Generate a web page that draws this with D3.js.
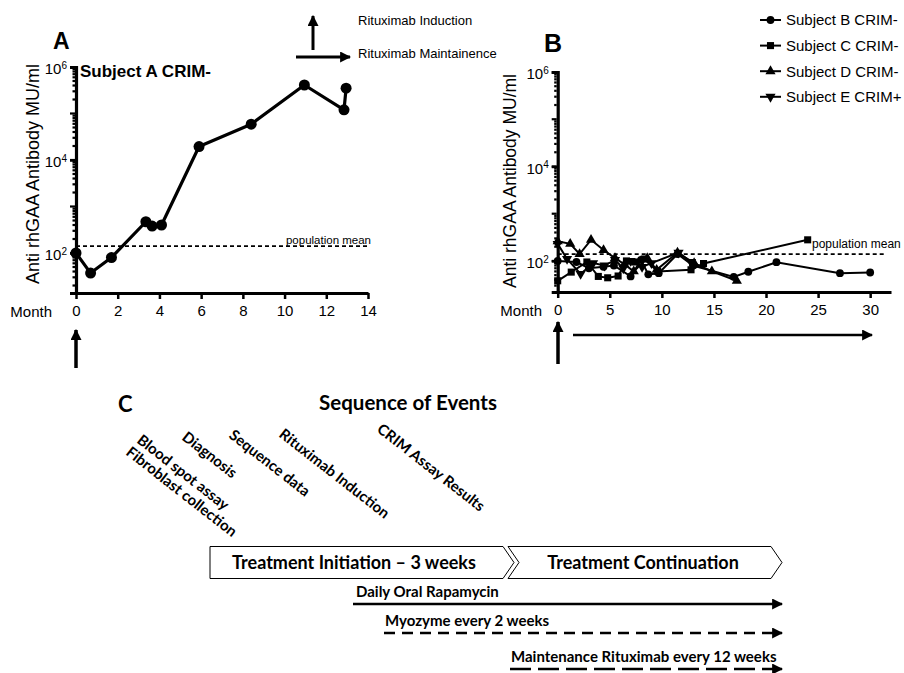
<!DOCTYPE html>
<html>
<head>
<meta charset="utf-8">
<script src="https://cdn.jsdelivr.net/npm/d3@7"></script>
<style>
    body { margin: 0; background: #fff; }
    text { fill: #000; }
</style>
</head>
<body>
<script>
// ---- panel A: Subject A CRIM-
const monthsA = [0, 0.7, 1.7, 3.35, 3.65, 4.1, 5.9, 8.4, 10.95, 12.85, 12.95];
const titerA = [100, 37, 80, 470, 380, 400, 19500, 59000, 410000, 120000, 350000];
const xTicksA = [0, 2, 4, 6, 8, 10, 12, 14];

// ---- panel B: subjects B to E
const monthsB = [0, 1.8, 3.0, 4.4, 5.4, 7.0, 8.0, 8.7, 9.7, 11.5, 13.0, 16.9, 18.3, 21.0, 27.1, 30.0];
const titerB = [100, 95, 70, 75, 80, 47, 105, 52, 55, 140, 80, 46, 59, 94, 55, 57];
const monthsC = [0, 1.3, 2.8, 3.9, 4.8, 5.8, 6.6, 7.4, 8.3, 9.6, 12.8, 14.0, 24.0];
const titerC = [38, 58, 95, 47, 44, 48, 100, 95, 110, 60, 65, 88, 280];
const monthsD = [0, 1.2, 2.1, 3.2, 4.4, 5.5, 6.4, 7.3, 8.6, 9.5, 11.5, 13.1, 14.8, 17.2];
const titerD = [260, 230, 140, 280, 170, 115, 85, 60, 115, 65, 150, 90, 60, 38];
const monthsE = [0, 0.9, 2.2, 3.4, 4.5, 5.5, 6.3, 7.0, 8.1, 9.0, 11.6, 12.8];
const titerE = [230, 110, 53, 90, 80, 105, 70, 100, 75, 90, 150, 95];
const subjectNames = ['Subject B CRIM-', 'Subject C CRIM-', 'Subject D CRIM-', 'Subject E CRIM+'];
const xTicksB = [0, 5, 10, 15, 20, 25, 30];

const populationMean = 140;
const yLabelled = [1e2, 1e4, 1e6];

// ---- panel C: sequence of events
const eventLabels = ['Fibroblast collection', 'Blood spot assay', 'Diagnosis', 'Sequence data', 'Rituximab Induction', 'CRIM Assay Results'];
const phaseLabels = ['Treatment Initiation \u2013 3 weeks', 'Treatment Continuation'];
const regimenLabels = ['Daily Oral Rapamycin', 'Myozyme every 2 weeks', 'Maintenance Rituximab every 12 weeks'];

const W = 904, H = 673;
const svg = d3.select('body').append('svg')
    .attr('width', W)
    .attr('height', H)
    .style('font-family', '"Liberation Sans", Arial, Helvetica, sans-serif');

const defs = svg.append('defs');
defs.append('marker')
    .attr('id', 'head')
    .attr('viewBox', '0 0 10 10')
    .attr('refX', 9).attr('refY', 5)
    .attr('markerWidth', 11).attr('markerHeight', 11)
    .attr('markerUnits', 'userSpaceOnUse')
    .attr('orient', 'auto')
    .append('path')
    .attr('d', 'M0,0L10,5L0,10z')
    .attr('fill', '#000');

function arrow(x1, y1, x2, y2, width, dash) {
    svg.append('line')
        .attr('x1', x1).attr('y1', y1)
        .attr('x2', x2).attr('y2', y2)
        .attr('stroke', '#000')
        .attr('stroke-width', width)
        .attr('stroke-dasharray', dash || null)
        .attr('marker-end', 'url(#head)');
}

function supLabel(sel) {
    sel.each(function (d) {
        const t = d3.select(this).text('');
        t.append('tspan').text('10');
        t.append('tspan')
            .attr('dy', '-0.55em')
            .style('font-size', '10px')
            .text(Math.round(Math.log10(d)));
    });
}

function drawPanel(o) {
    const g = svg.append('g');

    // minor ticks on log axis
    const minor = [];
    for (let e = 1; e < 6; e++) {
        for (let k = 1; k < 10; k++) {
            const v = k * Math.pow(10, e);
            if (v >= o.y.domain()[0] && v <= 1e6) minor.push(v);
        }
    }
    g.append('g')
        .selectAll('line')
        .data(minor)
        .enter()
        .append('line')
        .attr('x1', o.x(0) - 1)
        .attr('x2', function (d) {
            const e = Math.log10(d);
            return o.x(0) - (Math.abs(e - Math.round(e)) < 1e-9 ? 6 : 3.5);
        })
        .attr('y1', function (d) { return o.y(d); })
        .attr('y2', function (d) { return o.y(d); })
        .attr('stroke', '#000')
        .attr('stroke-width', 2.2);

    // y axis
    const yAxis = g.append('g')
        .attr('transform', `translate(${o.x(0)},0)`)
        .call(d3.axisLeft(o.y).tickValues(yLabelled).tickSize(6).tickPadding(3));
    yAxis.select('.domain').attr('stroke-width', 3.2);
    yAxis.selectAll('.tick line').attr('stroke-width', 2.5);
    yAxis.selectAll('.tick text')
        .style('font-size', '15px')
        .attr('dy', '0.45em')
        .call(supLabel);

    // x axis
    const xAxis = g.append('g')
        .attr('transform', `translate(0,${o.y.range()[0]})`)
        .call(d3.axisBottom(o.x).tickValues(o.xTicks).tickSize(6).tickPadding(6).tickSizeOuter(0));
    xAxis.select('.domain').attr('stroke-width', 3.2);
    xAxis.selectAll('.tick line').attr('stroke-width', 2.5);
    xAxis.selectAll('.tick text').style('font-size', '15px');

    g.append('text')
        .attr('x', o.monthX)
        .attr('y', o.y.range()[0] + 24)
        .attr('text-anchor', 'end')
        .style('font-size', '15px')
        .text('Month');

    g.append('text')
        .attr('transform', `translate(${o.titleX},${o.titleY}) rotate(-90)`)
        .attr('text-anchor', 'middle')
        .style('font-size', o.titleSize)
        .text('Anti rhGAA Antibody MU/ml');

    g.append('text')
        .attr('x', o.letterX)
        .attr('y', o.letterY)
        .style('font-size', o.letterSize)
        .style('font-weight', 'bold')
        .text(o.letter);

    // population mean
    g.append('line')
        .attr('x1', o.x(0)).attr('x2', o.meanEnd)
        .attr('y1', o.y(populationMean)).attr('y2', o.y(populationMean))
        .attr('stroke', '#000')
        .attr('stroke-width', 1.8)
        .attr('stroke-dasharray', '4,3');
    g.append('text')
        .attr('x', o.meanTextX)
        .attr('y', o.meanTextY)
        .attr('text-anchor', o.meanAnchor)
        .style('font-size', o.meanSize)
        .text('population mean');

    return g;
}

// ---------------- panel A
const xA = d3.scaleLinear().domain([0, 14]).range([76, 368]);
const yA = d3.scaleLog().domain([Math.pow(10, 1.14), 1e6]).range([293, 67]);

const gA = drawPanel({
    x: xA, y: yA, xTicks: xTicksA,
    monthX: 52, titleX: 39, titleY: 174, titleSize: '18px',
    letter: 'A', letterX: 53, letterY: 49, letterSize: '23px',
    meanEnd: 370, meanTextX: 371, meanTextY: 244, meanAnchor: 'end', meanSize: '11.5px'
});

gA.append('text')
    .attr('x', 80).attr('y', 77)
    .style('font-size', '17px')
    .style('font-weight', 'bold')
    .text('Subject A CRIM-');

const seriesA = monthsA.map(function (m, i) { return [m, titerA[i]]; });
gA.append('path')
    .datum(seriesA)
    .attr('d', d3.line().x(function (d) { return xA(d[0]); }).y(function (d) { return yA(d[1]); }))
    .attr('fill', 'none')
    .attr('stroke', '#000')
    .attr('stroke-width', 3.2)
    .attr('stroke-linejoin', 'round');
gA.append('g')
    .selectAll('circle')
    .data(seriesA)
    .enter()
    .append('circle')
    .attr('cx', function (d) { return xA(d[0]); })
    .attr('cy', function (d) { return yA(d[1]); })
    .attr('r', 5.5)
    .attr('fill', '#000');

// rituximab key
arrow(313, 50, 313, 16, 3);
arrow(296, 57, 350, 57, 3);
svg.append('text').attr('x', 358).attr('y', 25).style('font-size', '13px').text('Rituximab Induction');
svg.append('text').attr('x', 358).attr('y', 58).style('font-size', '13px').text('Rituximab Maintainence');
arrow(76, 368, 76, 330, 3.5);

// ---------------- panel B
const xB = d3.scaleLinear().domain([0, 32]).range([557.7, 891]);
const yB = d3.scaleLog().domain([22, 1e6]).range([292, 72]);

const gB = drawPanel({
    x: xB, y: yB, xTicks: xTicksB,
    monthX: 542, titleX: 516, titleY: 181, titleSize: '17.5px',
    letter: 'B', letterX: 544, letterY: 52, letterSize: '25px',
    meanEnd: 885, meanTextX: 812, meanTextY: 248, meanAnchor: 'start', meanSize: '12px'
});

const symbolTypes = [d3.symbolCircle, d3.symbolSquare, d3.symbolTriangle, d3.symbolTriangle];
const symbolSizes = [48, 50, 45, 45];
const seriesB = [
    [monthsB, titerB],
    [monthsC, titerC],
    [monthsD, titerD],
    [monthsE, titerE]
].map(function (s) { return s[0].map(function (m, i) { return [m, s[1][i]]; }); });

seriesB.forEach(function (pts, si) {
    gB.append('path')
        .datum(pts)
        .attr('d', d3.line().x(function (d) { return xB(d[0]); }).y(function (d) { return yB(d[1]); }))
        .attr('fill', 'none')
        .attr('stroke', '#000')
        .attr('stroke-width', 2);
    gB.append('g')
        .selectAll('path')
        .data(pts)
        .enter()
        .append('path')
        .attr('d', d3.symbol().type(symbolTypes[si]).size(symbolSizes[si]))
        .attr('transform', function (d) {
            return `translate(${xB(d[0])},${yB(d[1])})` + (si === 3 ? ' rotate(180)' : '');
        })
        .attr('fill', '#000');
});

// legend
const legend = svg.append('g')
    .selectAll('g')
    .data(subjectNames)
    .enter()
    .append('g')
    .attr('transform', function (d, i) { return `translate(760,${20 + i * 25.6})`; });
legend.append('line')
    .attr('x1', 0).attr('x2', 21)
    .attr('stroke', '#000').attr('stroke-width', 2);
legend.append('path')
    .attr('d', function (d, i) { return d3.symbol().type(symbolTypes[i]).size(symbolSizes[i])(); })
    .attr('transform', function (d, i) { return 'translate(10.5,0)' + (i === 3 ? ' rotate(180)' : ''); })
    .attr('fill', '#000');
legend.append('text')
    .attr('x', 26)
    .attr('dy', '0.36em')
    .style('font-size', '15px')
    .text(function (d) { return d; });

arrow(558, 364, 558, 322, 3.5);
arrow(573, 335, 872, 335, 2.5);

// ---------------- panel C
const fontC = 'Lato, "Open Sans", sans-serif';
svg.append('text')
    .attr('x', 118).attr('y', 412)
    .style('font-family', fontC).style('font-weight', 'bold').style('font-size', '22px')
    .text('C');
svg.append('text')
    .attr('x', 408).attr('y', 410)
    .attr('text-anchor', 'middle')
    .style('font-family', fontC).style('font-weight', 'bold').style('font-size', '20.5px')
    .text('Sequence of Events');

const eventX = [125, 136, 181, 228, 278, 376];
const eventY = [454, 442, 439, 437, 436, 431];
svg.append('g')
    .selectAll('text')
    .data(eventLabels)
    .enter()
    .append('text')
    .attr('transform', function (d, i) { return `translate(${eventX[i]},${eventY[i]}) rotate(38)`; })
    .style('font-family', fontC).style('font-weight', 'bold').style('font-size', '15px')
    .text(function (d) { return d; });

// phase chevrons
const midY = 562.5, half = 16;
svg.append('path')
    .attr('d', `M210,${midY - half}H503L514,${midY}L503,${midY + half}H210Z`)
    .attr('fill', '#fff').attr('stroke', '#000').attr('stroke-width', 1);
svg.append('path')
    .attr('d', `M508,${midY - half}H771L782,${midY}L771,${midY + half}H508L519,${midY}Z`)
    .attr('fill', '#fff').attr('stroke', '#000').attr('stroke-width', 1);
svg.append('g')
    .selectAll('text')
    .data(phaseLabels)
    .enter()
    .append('text')
    .attr('x', function (d, i) { return [354, 643][i]; })
    .attr('y', midY + 6)
    .attr('text-anchor', 'middle')
    .style('font-family', fontC).style('font-weight', 'bold').style('font-size', '18px')
    .text(function (d) { return d; });

// regimens
const regimenX = [356, 385, 511];
const regimenY = [597, 626, 662];
const lineStart = [353, 384, 510];
const lineY = [604, 633, 669];
const dashes = [null, '11,7', '21,7'];
svg.append('g')
    .selectAll('text')
    .data(regimenLabels)
    .enter()
    .append('text')
    .attr('x', function (d, i) { return regimenX[i]; })
    .attr('y', function (d, i) { return regimenY[i]; })
    .style('font-family', fontC).style('font-weight', 'bold').style('font-size', '15px')
    .text(function (d) { return d; });
regimenLabels.forEach(function (d, i) {
    arrow(lineStart[i], lineY[i], 782, lineY[i], 2.4, dashes[i]);
});
</script>
</body>
</html>
